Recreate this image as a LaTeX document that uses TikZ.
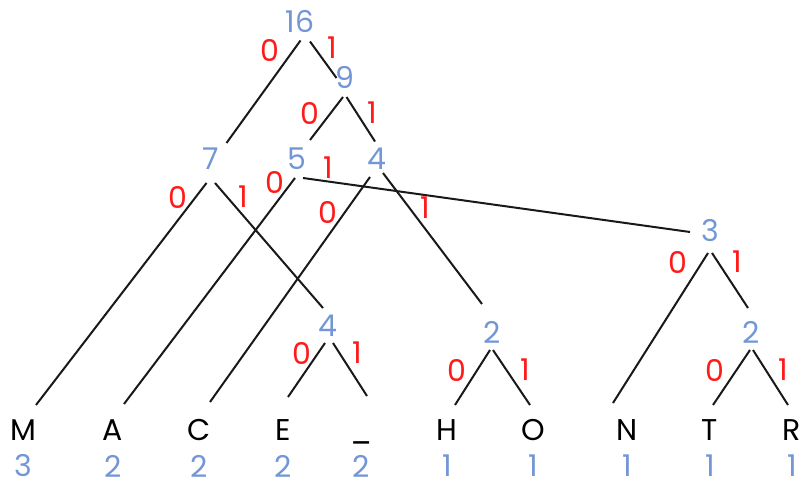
\documentclass[tikz,border=0pt]{standalone}
\usepackage{fontspec}
\setmainfont{Poppins}
\definecolor{cntc}{RGB}{115,150,215}
\definecolor{bitc}{RGB}{255,25,25}
\definecolor{linec}{RGB}{25,25,25}
\begin{document}
\begin{tikzpicture}[x=1pt,y=-1pt,
  cnt/.style={text=cntc, font=\fontsize{30}{30}\selectfont, inner sep=0pt},
  bit/.style={text=bitc, font=\fontsize{30}{30}\selectfont, inner sep=0pt},
  leaf/.style={text=black, font=\fontsize{30}{30}\selectfont, inner sep=0pt, anchor=base},
  edge/.style={draw=linec, line width=2pt}]
\useasboundingbox (0,0) rectangle (801,484);

% internal nodes
\node[cnt] (n16) at (300,21) {16};
\node[cnt] (n9)  at (345,77) {9};
\node[cnt] (n7)  at (211,159) {7};
\node[cnt] (n5)  at (297,159) {5};
\node[cnt] (n4)  at (377,159) {4};
\node[cnt] (n3)  at (710,231) {3};
\node[cnt] (m4)  at (328,326) {4};
\node[cnt] (h2)  at (492,332) {2};
\node[cnt] (t2)  at (751,332) {2};

% leaves
\node[leaf] (M) at (23,440) {M};
\node[leaf] (A) at (113,440) {A};
\node[leaf] (C) at (199,440) {C};
\node[leaf] (E) at (283,440) {E};
\node[leaf] (U) at (361,440) {\_};
\node[leaf] (H) at (447,440) {H};
\node[leaf] (O) at (533,440) {O};
\node[leaf] (N) at (627,440) {N};
\node[leaf] (T) at (710,440) {T};
\node[leaf] (R) at (792,440) {R};

\node[cnt] (cM) at (23,466) {3};
\node[cnt] (cA) at (113,466) {2};
\node[cnt] (cC) at (199,466) {2};
\node[cnt] (cE) at (283,466) {2};
\node[cnt] (cU) at (361,466) {2};
\node[cnt] (cH) at (447,466) {1};
\node[cnt] (cO) at (533,466) {1};
\node[cnt] (cN) at (627,466) {1};
\node[cnt] (cT) at (710,466) {1};
\node[cnt] (cR) at (792,466) {1};

% connector end points
\coordinate (n16l) at (300.5,40.5);
\coordinate (n16r) at (310,41.5);
\coordinate (n7t)  at (226.5,143);
\coordinate (n9t)  at (336.5,78);
\coordinate (n9l)  at (343,97);
\coordinate (n9r)  at (346.5,97);
\coordinate (n5t)  at (310,140);
\coordinate (n4t)  at (375,141.5);
\coordinate (n7l)  at (206.5,183);
\coordinate (n7r)  at (215,183);
\coordinate (n5l)  at (295,178);
\coordinate (n5r)  at (303,178);
\coordinate (n4l)  at (370,177);
\coordinate (n4r)  at (383,173);
\coordinate (n3t)  at (690,232);
\coordinate (n3l)  at (708,253);
\coordinate (n3r)  at (712,253);
\coordinate (m4t)  at (323,308);
\coordinate (m4l)  at (325,343);
\coordinate (m4r)  at (333,343);
\coordinate (h2t)  at (482,304);
\coordinate (h2l)  at (490,350);
\coordinate (h2r)  at (493,350);
\coordinate (t2t)  at (748,308);
\coordinate (t2l)  at (750,350);
\coordinate (t2r)  at (753,350);
\coordinate (Mt) at (36,405);
\coordinate (At) at (124,404);
\coordinate (Ct) at (210,402);
\coordinate (Et) at (288,397);
\coordinate (Ut) at (367,396);
\coordinate (Ht) at (455,405);
\coordinate (Ot) at (530,405);
\coordinate (Nt) at (613,403);
\coordinate (Tt) at (713,405);
\coordinate (Rt) at (788,405);

% connectors
\draw[edge] (n16l) -- (n7t);
\draw[edge] (n16r) -- (n9t);
\draw[edge] (n9l) -- (n5t);
\draw[edge] (n9r) -- (n4t);
\draw[edge] (n7l) -- (Mt);
\draw[edge] (n7r) -- (m4t);
\draw[edge] (n5l) -- (At);
\draw[edge] (n5r) -- (n3t);
\draw[edge] (n4l) -- (Ct);
\draw[edge] (n4r) -- (h2t);
\draw[edge] (n3l) -- (Nt);
\draw[edge] (n3r) -- (t2t);
\draw[edge] (m4l) -- (Et);
\draw[edge] (m4r) -- (Ut);
\draw[edge] (h2l) -- (Ht);
\draw[edge] (h2r) -- (Ot);
\draw[edge] (t2l) -- (Tt);
\draw[edge] (t2r) -- (Rt);

% edge labels
\node[bit] (b16a) at (270,50) {0};
\node[bit] (b16b) at (332,48) {1};
\node[bit] (b9a)  at (310,113) {0};
\node[bit] (b9b)  at (372,113) {1};
\node[bit] (b7a)  at (178,197) {0};
\node[bit] (b7b)  at (243,197) {1};
\node[bit] (b5a)  at (275,182) {0};
\node[bit] (b5b)  at (328,168) {1};
\node[bit] (b4a)  at (328,212) {0};
\node[bit] (b4b)  at (425,208) {1};
\node[bit] (b3a)  at (678,262) {0};
\node[bit] (b3b)  at (737,262) {1};
\node[bit] (bm4a) at (302,353) {0};
\node[bit] (bm4b) at (357,353) {1};
\node[bit] (bh2a) at (457,370) {0};
\node[bit] (bh2b) at (525,370) {1};
\node[bit] (bt2a) at (715,370) {0};
\node[bit] (bt2b) at (783,370) {1};
\end{tikzpicture}
\end{document}
